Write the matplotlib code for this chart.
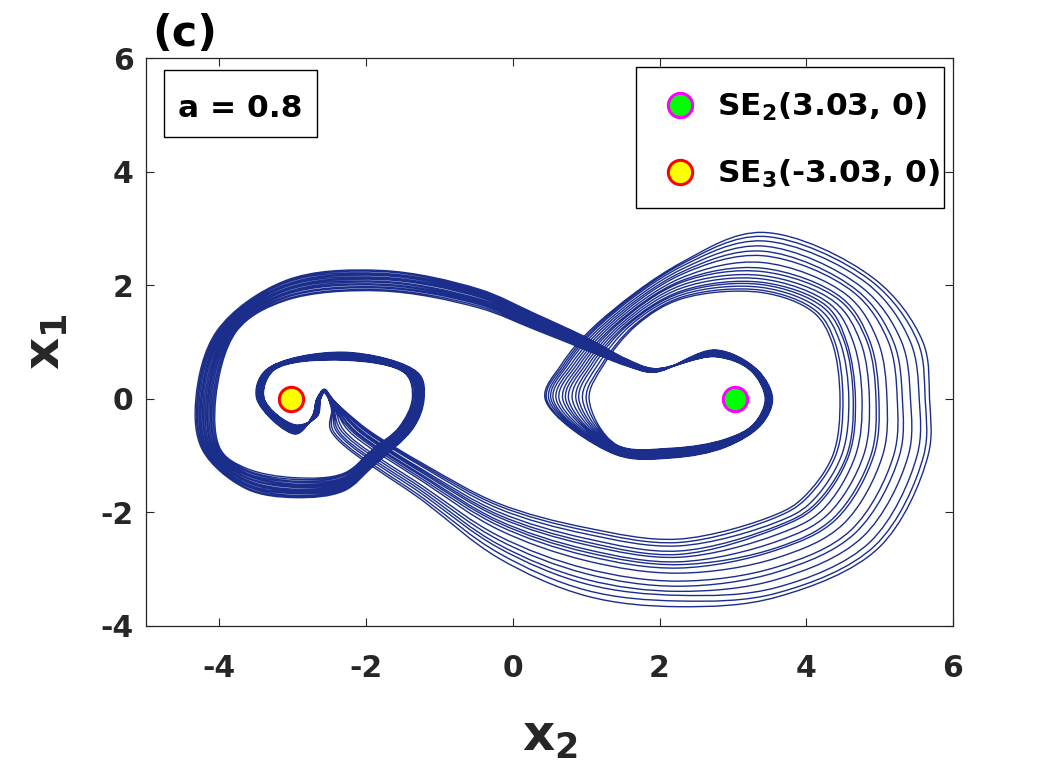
import numpy as np
import matplotlib
matplotlib.use("Agg")
import matplotlib.pyplot as plt
from matplotlib.path import Path
from matplotlib.patches import PathPatch, Rectangle
from matplotlib.lines import Line2D

# ---------------- data ----------------
# Equilibria
se_labels = ["SE$_2$(3.03, 0)", "SE$_3$(-3.03, 0)"]
se_x = [3.03, -3.03]
se_y = [0.0, 0.0]
param_text = "a = 0.8"
panel_tag = "(c)"
x_ticks = [-4, -2, 0, 2, 4, 6]
y_ticks = [-4, -2, 0, 2, 4, 6]

# Trajectory: crossing positions of 16 recorded turns (inner -> outer)
# on fixed cross-section lines of the attractor.
# spike (tongue) near SE3
t_tip_y = [0.17, 0.17, 0.16, 0.16, 0.16, 0.15, 0.15, 0.15, 0.14, 0.14, 0.14, 0.13, 0.13, 0.12, 0.12, 0.11]      # x=-2.57
t_left_x = [-2.67, -2.67, -2.66, -2.66, -2.66, -2.65, -2.65, -2.65, -2.64, -2.64, -2.64, -2.63, -2.63, -2.63, -2.62, -2.62]  # y=0
t_down_x = [-2.73, -2.73, -2.72, -2.72, -2.71, -2.71, -2.70, -2.70, -2.70, -2.69, -2.69, -2.68, -2.68, -2.67, -2.67, -2.66]  # y=-0.3
# inner left loop
li_s_y = [-0.62, -0.61, -0.60, -0.59, -0.58, -0.57, -0.56, -0.55, -0.54, -0.53, -0.52, -0.51, -0.50, -0.49, -0.47, -0.46]   # x=-2.96
li_w_x = [-3.49, -3.48, -3.48, -3.47, -3.46, -3.45, -3.45, -3.44, -3.43, -3.43, -3.42, -3.41, -3.41, -3.40, -3.39, -3.39]   # y=0
li_nw_x = [-3.37, -3.36, -3.36, -3.35, -3.34, -3.33, -3.33, -3.32, -3.31, -3.31, -3.30, -3.29, -3.28, -3.28, -3.27, -3.26]  # y=0.5
li_n_y = [0.82, 0.81, 0.80, 0.79, 0.78, 0.78, 0.77, 0.76, 0.75, 0.74, 0.73, 0.72, 0.71, 0.70, 0.69, 0.68]                 # x=-2.3
li_ne_x = [-1.28, -1.29, -1.30, -1.31, -1.33, -1.34, -1.35, -1.36, -1.37, -1.38, -1.40, -1.41, -1.42, -1.43, -1.45, -1.46]  # y=0.44
li_e_x = [-1.21, -1.22, -1.23, -1.24, -1.25, -1.26, -1.27, -1.28, -1.29, -1.30, -1.31, -1.32, -1.33, -1.34, -1.36, -1.37]   # y=0
# outer left loop
lo_a_x = [-1.35, -1.36, -1.37, -1.39, -1.40, -1.41, -1.42, -1.44, -1.45, -1.46, -1.48, -1.49, -1.50, -1.52, -1.53, -1.55]   # y=-0.5
lo_b_y = [-1.18, -1.16, -1.14, -1.12, -1.10, -1.08, -1.06, -1.04, -1.02, -1.00, -0.98, -0.96, -0.94, -0.92, -0.90, -0.88]   # x=-1.9
lo_c_y = [-1.62, -1.60, -1.58, -1.56, -1.54, -1.52, -1.50, -1.48, -1.46, -1.44, -1.42, -1.40, -1.38, -1.35, -1.33, -1.31]   # x=-2.3
lo_s_y = [-1.74, -1.72, -1.70, -1.67, -1.65, -1.63, -1.61, -1.59, -1.56, -1.54, -1.52, -1.50, -1.47, -1.45, -1.42, -1.39]   # x=-2.96
lo_d_y = [-1.58, -1.56, -1.53, -1.51, -1.49, -1.46, -1.44, -1.42, -1.39, -1.37, -1.34, -1.32, -1.30, -1.27, -1.25, -1.22]   # x=-3.64
lo_sw_x = [-4.23, -4.21, -4.20, -4.18, -4.17, -4.15, -4.13, -4.12, -4.10, -4.08, -4.07, -4.05, -4.03, -4.02, -4.00, -3.98]  # y=-0.9
lo_w_x = [-4.32, -4.30, -4.29, -4.27, -4.25, -4.24, -4.22, -4.20, -4.18, -4.16, -4.15, -4.13, -4.11, -4.09, -4.07, -4.05]   # y=0
lo_nw_x = [-4.03, -4.01, -4.00, -3.98, -3.96, -3.95, -3.93, -3.91, -3.89, -3.87, -3.86, -3.84, -3.82, -3.80, -3.78, -3.76]  # y=1.2
lo_nnw_y = [2.08, 2.06, 2.04, 2.01, 1.99, 1.97, 1.94, 1.92, 1.90, 1.87, 1.85, 1.83, 1.80, 1.78, 1.75, 1.73]               # x=-3.1
lo_n_y = [2.26, 2.24, 2.21, 2.19, 2.17, 2.14, 2.12, 2.10, 2.07, 2.05, 2.02, 2.00, 1.97, 1.95, 1.92, 1.90]                 # x=-1.8
# connecting band towards SE2
band_a_y = [1.93, 1.91, 1.89, 1.87, 1.85, 1.83, 1.81, 1.79, 1.76, 1.74, 1.72, 1.70, 1.68, 1.66, 1.63, 1.60]               # x=-0.46
band_b_y = [1.50, 1.48, 1.46, 1.45, 1.43, 1.41, 1.39, 1.37, 1.36, 1.34, 1.32, 1.30, 1.28, 1.26, 1.24, 1.22]               # x=0.3
band_c_y = [1.08, 1.07, 1.05, 1.04, 1.02, 1.01, 1.00, 0.98, 0.97, 0.95, 0.94, 0.92, 0.91, 0.89, 0.88, 0.86]               # x=1.0
band_d_y = [0.70, 0.69, 0.68, 0.68, 0.67, 0.66, 0.65, 0.64, 0.64, 0.63, 0.62, 0.61, 0.60, 0.60, 0.59, 0.58]               # x=1.55
kink_y = [0.53, 0.53, 0.52, 0.52, 0.51, 0.51, 0.50, 0.50, 0.50, 0.49, 0.49, 0.48, 0.48, 0.48, 0.47, 0.47]                 # x=1.93
# inner right loop
ri_n_y = [0.74, 0.75, 0.75, 0.76, 0.77, 0.78, 0.78, 0.79, 0.80, 0.81, 0.81, 0.82, 0.83, 0.84, 0.85, 0.86]                 # x=2.76
ri_ne_x = [3.24, 3.25, 3.25, 3.26, 3.27, 3.27, 3.28, 3.29, 3.29, 3.30, 3.31, 3.31, 3.32, 3.33, 3.33, 3.34]                # y=0.5
ri_e_x = [3.44, 3.45, 3.45, 3.46, 3.47, 3.47, 3.48, 3.49, 3.49, 3.50, 3.51, 3.51, 3.52, 3.53, 3.53, 3.54]                 # y=0
ri_se_x = [3.28, 3.29, 3.29, 3.30, 3.31, 3.32, 3.32, 3.33, 3.34, 3.35, 3.35, 3.36, 3.37, 3.38, 3.38, 3.39]                # y=-0.45
ri_sse_y = [-0.71, -0.72, -0.73, -0.74, -0.75, -0.76, -0.77, -0.78, -0.78, -0.79, -0.80, -0.81, -0.82, -0.83, -0.84, -0.85] # x=2.9
ri_s_y = [-0.87, -0.88, -0.89, -0.90, -0.91, -0.92, -0.93, -0.94, -0.96, -0.97, -0.98, -0.99, -1.00, -1.01, -1.03, -1.04]   # x=2.17
ri_sw_y = [-0.80, -0.81, -0.82, -0.83, -0.85, -0.86, -0.87, -0.88, -0.89, -0.90, -0.92, -0.93, -0.94, -0.95, -0.97, -0.98]  # x=1.4
ri_w_x = [1.04, 1.00, 0.95, 0.90, 0.86, 0.81, 0.76, 0.72, 0.68, 0.63, 0.59, 0.55, 0.52, 0.49, 0.46, 0.44]                 # y=0
# outer right loop
ro_wn_x = [1.24, 1.21, 1.16, 1.11, 1.07, 1.03, 0.99, 0.95, 0.91, 0.87, 0.83, 0.79, 0.75, 0.72, 0.69, 0.66]                # y=0.6
ro_nw_x = [1.69, 1.66, 1.61, 1.57, 1.54, 1.50, 1.46, 1.42, 1.39, 1.35, 1.31, 1.27, 1.23, 1.19, 1.16, 1.13]                # y=1.3
ro_nnw_y = [1.76, 1.79, 1.83, 1.87, 1.90, 1.95, 2.00, 2.05, 2.08, 2.13, 2.19, 2.23, 2.28, 2.33, 2.37, 2.40]               # x=2.3
ro_n_y = [1.87, 1.91, 1.96, 2.01, 2.05, 2.11, 2.17, 2.24, 2.30, 2.40, 2.52, 2.60, 2.69, 2.78, 2.86, 2.93]                 # x=3.4
ro_ne_x = [4.10, 4.14, 4.19, 4.24, 4.28, 4.33, 4.39, 4.45, 4.49, 4.56, 4.64, 4.69, 4.76, 4.83, 4.88, 4.92]
ro_ne_y = [1.52, 1.54, 1.57, 1.60, 1.63, 1.66, 1.70, 1.74, 1.77, 1.82, 1.88, 1.91, 1.96, 2.03, 2.08, 2.12]
ro_e1_x = [4.35, 4.39, 4.46, 4.52, 4.55, 4.64, 4.74, 4.83, 4.87, 4.98, 5.12, 5.19, 5.30, 5.42, 5.52, 5.59]                # y=1.0
ro_e_x = [4.46, 4.50, 4.58, 4.64, 4.67, 4.76, 4.86, 4.95, 4.99, 5.10, 5.24, 5.31, 5.42, 5.54, 5.62, 5.68]                 # y=0
ro_e2_x = [4.36, 4.40, 4.48, 4.55, 4.58, 4.67, 4.78, 4.88, 4.92, 5.04, 5.19, 5.27, 5.39, 5.51, 5.60, 5.66]                # y=-1.0
ro_se_x = [3.95, 3.98, 4.05, 4.10, 4.13, 4.21, 4.29, 4.37, 4.40, 4.50, 4.61, 4.67, 4.77, 4.87, 4.94, 4.99]
ro_se_y = [-1.75, -1.78, -1.84, -1.88, -1.90, -1.97, -2.04, -2.10, -2.13, -2.21, -2.31, -2.36, -2.43, -2.52, -2.58, -2.62]
ro_sse_y = [-2.03, -2.08, -2.17, -2.24, -2.28, -2.39, -2.51, -2.62, -2.66, -2.80, -2.96, -3.05, -3.18, -3.32, -3.42, -3.49] # x=3.6
ro_s_y = [-2.47, -2.53, -2.59, -2.68, -2.74, -2.79, -2.87, -2.92, -2.98, -3.07, -3.21, -3.30, -3.39, -3.46, -3.56, -3.66]   # x=2.26
ro_ssw_y = [-2.27, -2.32, -2.38, -2.46, -2.52, -2.57, -2.65, -2.70, -2.76, -2.85, -2.99, -3.08, -3.18, -3.26, -3.37, -3.47] # x=1.0
# lower band back to the spike
lw_a_y = [-1.84, -1.88, -1.93, -1.99, -2.04, -2.08, -2.14, -2.18, -2.23, -2.30, -2.41, -2.48, -2.56, -2.62, -2.71, -2.80]   # x=-0.2
lw_b_y = [-1.16, -1.19, -1.22, -1.27, -1.30, -1.33, -1.37, -1.40, -1.44, -1.48, -1.56, -1.61, -1.66, -1.71, -1.77, -1.82]   # x=-1.2
lw_c_x = [-1.96, -1.99, -2.02, -2.06, -2.09, -2.11, -2.15, -2.17, -2.20, -2.24, -2.30, -2.34, -2.38, -2.41, -2.45, -2.48]   # y=-0.56
conv_x = [-2.30, -2.32, -2.33, -2.35, -2.36, -2.36, -2.38, -2.39, -2.41, -2.41, -2.42, -2.44, -2.44, -2.45, -2.46, -2.47]   # y=-0.2
t_right_x = [-2.46, -2.46, -2.47, -2.47, -2.48, -2.48, -2.48, -2.49, -2.49, -2.49, -2.50, -2.50, -2.50, -2.51, -2.51, -2.51] # y=0

# order in which one turn visits the cross-sections: (x, y) with a scalar for the fixed line
route = [
    (-2.57, t_tip_y), (t_left_x, 0.0), (t_down_x, -0.3), (-2.96, li_s_y), (li_w_x, 0.0),
    (li_nw_x, 0.5), (-2.3, li_n_y), (li_ne_x, 0.44), (li_e_x, 0.0), (lo_a_x, -0.5),
    (-1.9, lo_b_y), (-2.3, lo_c_y), (-2.96, lo_s_y), (-3.64, lo_d_y), (lo_sw_x, -0.9),
    (lo_w_x, 0.0), (lo_nw_x, 1.2), (-3.1, lo_nnw_y), (-1.8, lo_n_y), (-0.46, band_a_y),
    (0.3, band_b_y), (1.0, band_c_y), (1.55, band_d_y), (1.93, kink_y), (2.76, ri_n_y),
    (ri_ne_x, 0.5), (ri_e_x, 0.0), (ri_se_x, -0.45), (2.9, ri_sse_y), (2.17, ri_s_y),
    (1.4, ri_sw_y), (ri_w_x, 0.0), (ro_wn_x, 0.6), (ro_nw_x, 1.3), (2.3, ro_nnw_y),
    (3.4, ro_n_y), (ro_ne_x, ro_ne_y), (ro_e1_x, 1.0), (ro_e_x, 0.0), (ro_e2_x, -1.0),
    (ro_se_x, ro_se_y), (3.6, ro_sse_y), (2.26, ro_s_y), (1.0, ro_ssw_y), (-0.2, lw_a_y),
    (-1.2, lw_b_y), (lw_c_x, -0.56), (conv_x, -0.2), (t_right_x, 0.0),
]

# ---------------- styling ----------------
plt.rcParams['font.family'] = ['DejaVu Sans']
plt.rcParams['font.weight'] = 'bold'
plt.rcParams['axes.unicode_minus'] = False
plt.rcParams['mathtext.fontset'] = 'custom'
plt.rcParams['mathtext.rm'] = 'DejaVu Sans:bold'
plt.rcParams['mathtext.it'] = 'DejaVu Sans:bold'
plt.rcParams['mathtext.bf'] = 'DejaVu Sans:bold'

LINE = '#1b2e8c'
AX = '#262626'

fig = plt.figure(figsize=(10.57, 7.82), dpi=100)
ax = fig.add_axes([0.1381, 0.1995, 0.7635, 0.7263])


def at(v, k):
    return v[k] if isinstance(v, (list, tuple, np.ndarray)) else v


n_turns = len(ro_e_x)
pts = np.array([(at(a, k), at(b, k)) for k in range(n_turns) for (a, b) in route])

# smooth curve through the points (centripetal Catmull-Rom drawn as cubic Bezier segments)
scale = np.array([73.4, 56.7])   # screen aspect of the axes, for spacing only
ext = np.vstack([2 * pts[0] - pts[1], pts, 2 * pts[-1] - pts[-2]])
verts = [pts[0]]
codes = [Path.MOVETO]
for i in range(len(pts) - 1):
    p0, p1, p2, p3 = ext[i], ext[i + 1], ext[i + 2], ext[i + 3]
    d0 = max(np.linalg.norm((p1 - p0) * scale) ** 0.5, 1e-6)
    d1 = max(np.linalg.norm((p2 - p1) * scale) ** 0.5, 1e-6)
    d2 = max(np.linalg.norm((p3 - p2) * scale) ** 0.5, 1e-6)
    m1 = (p1 - p0) / d0 - (p2 - p0) / (d0 + d1) + (p2 - p1) / d1
    m2 = (p2 - p1) / d1 - (p3 - p1) / (d1 + d2) + (p3 - p2) / d2
    verts += [p1 + m1 * d1 / 3.0, p2 - m2 * d1 / 3.0, p2]
    codes += [Path.CURVE4] * 3
ax.add_patch(PathPatch(Path(np.array(verts), codes), fill=False, edgecolor=LINE,
                       linewidth=1.0, zorder=2))

# equilibria
ax.plot(se_x[0], se_y[0], 'o', ms=17.5, mfc='#00ff00', mec='#ff00ff', mew=2.2, zorder=5)
ax.plot(se_x[1], se_y[1], 'o', ms=17.5, mfc='#ffff00', mec='#ff0000', mew=2.2, zorder=5)

ax.set_xlim(-5, 6)
ax.set_ylim(-4, 6)
ax.set_xticks(x_ticks)
ax.set_yticks(y_ticks)
ax.tick_params(direction='in', length=5.8, width=0.8, top=True, right=True,
               labelsize=21.5, colors=AX)
ax.tick_params(axis='x', pad=20)
ax.tick_params(axis='y', pad=9)
for lab in ax.get_xticklabels() + ax.get_yticklabels():
    lab.set_fontweight('bold')
    lab.set_color('#262626')
for s in ax.spines.values():
    s.set_linewidth(0.9)
    s.set_color(AX)

ax.set_xlabel('$x_2$', fontsize=36, labelpad=22, color='#262626')
ax.set_ylabel('$x_1$', fontsize=36, labelpad=22, color='#262626')

# legend (frame drawn separately)
handles = [
    Line2D([], [], ls='none', marker='o', ms=17.5, mfc='#00ff00', mec='#ff00ff', mew=2.2),
    Line2D([], [], ls='none', marker='o', ms=17.5, mfc='#ffff00', mec='#ff0000', mew=2.2),
]
ax.add_patch(Rectangle((0.6072, 0.7359), 0.3816, 0.2483, transform=ax.transAxes,
                       facecolor='white', edgecolor='black', linewidth=1.0, zorder=6))
leg = ax.legend(handles, se_labels, loc='upper left', bbox_to_anchor=(0.623, 0.9428),
                borderaxespad=0, borderpad=0, frameon=False,
                prop={'size': 22.5, 'weight': 'bold'},
                handlelength=2.0, handletextpad=0.18, labelspacing=1.13)
leg.set_zorder(7)

# parameter box
ax.add_patch(Rectangle((0.0227, 0.8614), 0.1896, 0.1175, transform=ax.transAxes,
                       fill=False, edgecolor='black', linewidth=1.0, zorder=6))
ax.text(0.117, 0.912, param_text, transform=ax.transAxes, ha='center', va='center',
        fontsize=22.5, fontweight='bold', color='black', zorder=7)

# panel tag
ax.text(0.0074, 1.022, panel_tag, transform=ax.transAxes, ha='left', va='baseline',
        fontsize=31, fontweight='bold', color='black')

fig.savefig('out.png', dpi=100)
